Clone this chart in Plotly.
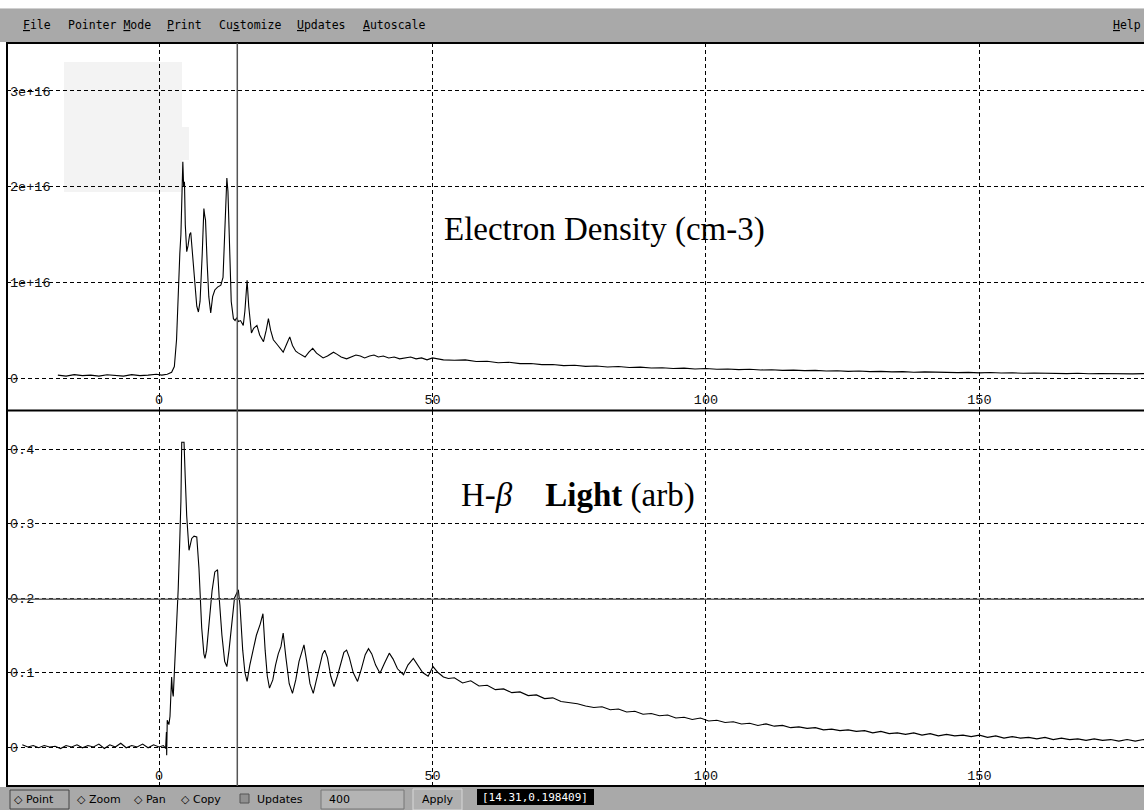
import numpy as np
import plotly.graph_objects as go

# ---------------- data ----------------
# Electron density, values in units of 1e16 cm-3
ne_t = [-18.5, -17, -15.5, -14, -12.5, -11, -9.5, -8, -6.5, -5, -3.5, -2, -0.5, 0.5, 1.5, 2.3, 2.8,
        3.2, 3.5, 3.8, 4.0, 4.2, 4.35, 4.5, 4.65, 4.8, 5.06, 5.3, 5.6, 5.8, 6.1, 6.5, 6.9, 7.2, 7.5,
        7.9, 8.2, 8.35, 8.5, 8.8, 9.1, 9.45, 9.8, 10.2, 10.7, 11.3, 11.7, 12.0, 12.4, 12.6, 12.9,
        13.2, 13.6, 13.9, 14.2, 14.5, 14.9, 15.4, 15.7, 16.1, 16.4, 16.9, 17.3, 17.9, 18.4, 19.1,
        19.6, 20.0, 20.4, 20.9, 21.6, 22.2, 22.7, 23.3, 23.9, 24.4, 25.0, 25.5, 26.1, 26.7, 27.4,
        28.1, 28.8, 29.4, 30.0, 30.8, 31.5, 31.9, 32.5, 33.3, 34.3, 35.2, 36.0, 36.8, 37.6, 38.5,
        39.3, 40.1, 41.0, 42.0, 43.0, 44.0, 45.0, 46.0, 47.0, 48.0, 49.0, 50, 52, 54, 56, 58, 60,
        62, 64, 66, 68, 70, 72, 74, 76, 78, 80, 82, 84, 86, 88, 90, 92, 94, 96, 98, 100, 102, 104,
        106, 108, 110, 112, 114, 116, 118, 120, 122, 124, 126, 128, 130, 132, 134, 136, 138, 140,
        142, 144, 146, 148, 150, 152, 154, 156, 158, 160, 162, 164, 166, 168, 170, 172, 174, 176,
        178, 180, 181]
ne_val = [0.03, 0.02, 0.035, 0.025, 0.03, 0.02, 0.035, 0.03, 0.02, 0.035, 0.025, 0.03, 0.04, 0.03,
          0.04, 0.06, 0.12, 0.4, 0.9, 1.3, 1.5, 1.9, 2.26, 2.0, 2.05, 1.6, 1.32, 1.38, 1.5, 1.52,
          1.3, 1.0, 0.75, 0.69, 0.8, 1.3, 1.77, 1.7, 1.65, 1.2, 0.85, 0.68, 0.85, 0.92, 0.95, 0.97,
          1.05, 1.5, 2.09, 1.95, 1.3, 0.8, 0.62, 0.6, 0.63, 0.59, 0.6, 0.55, 0.7, 1.02, 0.75, 0.47,
          0.52, 0.55, 0.45, 0.38, 0.5, 0.62, 0.5, 0.4, 0.35, 0.3, 0.27, 0.35, 0.43, 0.34, 0.28,
          0.26, 0.24, 0.22, 0.27, 0.31, 0.26, 0.23, 0.21, 0.23, 0.26, 0.27, 0.25, 0.22, 0.20, 0.22,
          0.24, 0.23, 0.21, 0.23, 0.24, 0.22, 0.23, 0.21, 0.22, 0.20, 0.21, 0.22, 0.20, 0.21, 0.19,
          0.21, 0.19, 0.185, 0.19, 0.172, 0.175, 0.16, 0.165, 0.15, 0.152, 0.14, 0.142, 0.13, 0.134,
          0.122, 0.126, 0.115, 0.12, 0.11, 0.114, 0.104, 0.108, 0.099, 0.103, 0.095, 0.099, 0.092,
          0.095, 0.088, 0.091, 0.084, 0.087, 0.08, 0.083, 0.077, 0.08, 0.073, 0.076, 0.07, 0.073,
          0.067, 0.07, 0.064, 0.067, 0.061, 0.064, 0.059, 0.061, 0.056, 0.059, 0.054, 0.057, 0.052,
          0.055, 0.05, 0.053, 0.048, 0.051, 0.046, 0.05, 0.045, 0.048, 0.044, 0.047, 0.043, 0.046,
          0.042]

# H-beta light, arbitrary units
hb_t = [-25, -24, -23, -22, -21, -20, -19, -18, -17, -16, -15, -14, -13, -12, -11, -10, -9, -8,
        -7, -6, -5, -4, -3, -2, -1, 0, 0.8, 1.2, 1.35, 1.4, 1.5, 1.8, 2.0, 2.3, 2.45, 2.6, 2.8,
        3.1, 3.5, 3.8, 4.0, 4.15, 4.57, 4.8, 5.06, 5.48, 5.98, 6.4, 6.9, 7.3, 7.8, 8.2, 8.4, 8.7,
        9.2, 9.7, 10.2, 10.7, 11.0, 11.5, 12.0, 12.4, 12.8, 13.3, 13.8, 14.5, 14.8, 15.3, 15.7,
        16.1, 16.6, 17.2, 17.8, 18.5, 19.0, 19.4, 19.8, 20.2, 20.8, 21.3, 21.8, 22.3, 22.7, 23.2,
        23.8, 24.4, 25.0, 25.6, 26.1, 26.5, 27.0, 27.6, 28.2, 28.8, 29.4, 29.9, 30.3, 30.8, 31.4,
        32.0, 32.6, 33.3, 33.8, 34.3, 34.8, 35.5, 36.3, 37.0, 37.7, 38.3, 38.9, 39.6, 40.4, 41.2,
        42.1, 42.8, 43.6, 44.7, 45.5, 46.5, 47.3, 48.2, 49.2, 50.1, 51.0, 52.0, 52.9, 54, 55.5,
        57, 58.5, 60, 61.5, 63, 64.5, 66, 67.5, 69, 70.5, 72, 73.5, 75, 76.5, 78, 79.5, 81, 82.5,
        84, 85.5, 87, 88.5, 90, 91.5, 93, 94.5, 96, 97.5, 99, 100.5, 102, 103.5, 105, 106.5, 108,
        109.5, 111, 112.5, 114, 115.5, 117, 118.5, 120, 121.5, 123, 124.5, 126, 127.5, 129, 130.5,
        132, 133.5, 135, 136.5, 138, 139.5, 141, 142.5, 144, 145.5, 147, 148.5, 150, 151.5, 153,
        154.5, 156, 157.5, 159, 160.5, 162, 163.5, 165, 166.5, 168, 169.5, 171, 172.5, 174, 175.5,
        177, 178.5, 180, 181]
hb_val = [0.003, 0.0, 0.002, -0.001, 0.002, 0.0, 0.001, -0.002, 0.002, 0.0, 0.003, -0.001, 0.002,
          0.0, 0.004, -0.002, 0.003, 0.0, 0.005, -0.001, 0.002, 0.0, 0.004, -0.001, 0.003, 0.0,
          0.002, -0.002, 0.02, -0.011, 0.036, 0.03, 0.041, 0.094, 0.075, 0.068, 0.1, 0.144, 0.211,
          0.28, 0.33, 0.409, 0.409, 0.36, 0.31, 0.264, 0.28, 0.283, 0.282, 0.24, 0.16, 0.125,
          0.119, 0.13, 0.17, 0.21, 0.235, 0.238, 0.2, 0.15, 0.115, 0.108, 0.13, 0.17, 0.2, 0.211,
          0.19, 0.13, 0.1, 0.088, 0.11, 0.13, 0.15, 0.165, 0.179, 0.13, 0.095, 0.079, 0.09, 0.11,
          0.125, 0.135, 0.153, 0.12, 0.085, 0.072, 0.09, 0.115, 0.128, 0.137, 0.115, 0.085, 0.072,
          0.09, 0.11, 0.125, 0.130, 0.12, 0.095, 0.081, 0.095, 0.115, 0.127, 0.130, 0.12, 0.1,
          0.088, 0.105, 0.124, 0.132, 0.125, 0.11, 0.099, 0.112, 0.126, 0.118, 0.105, 0.097, 0.11,
          0.119, 0.11, 0.1, 0.095, 0.108, 0.1, 0.094, 0.092, 0.093, 0.086, 0.089, 0.082, 0.083,
          0.077, 0.078, 0.073, 0.074, 0.069, 0.070, 0.065, 0.066, 0.061, 0.060, 0.058, 0.055,
          0.053, 0.054, 0.050, 0.051, 0.047, 0.048, 0.044, 0.045, 0.042, 0.043, 0.039, 0.040,
          0.037, 0.039, 0.035, 0.036, 0.033, 0.034, 0.031, 0.032, 0.029, 0.031, 0.028, 0.029,
          0.026, 0.027, 0.025, 0.026, 0.023, 0.024, 0.022, 0.023, 0.021, 0.022, 0.019, 0.021,
          0.018, 0.019, 0.017, 0.019, 0.016, 0.018, 0.015, 0.017, 0.015, 0.016, 0.014, 0.016,
          0.013, 0.015, 0.012, 0.014, 0.012, 0.013, 0.011, 0.013, 0.010, 0.012, 0.010, 0.011,
          0.009, 0.011, 0.009, 0.010, 0.008, 0.010, 0.008, 0.010, 0.009]

x_ticks = [0, 50, 100, 150]
x_ticktext = ["0", "50", "100", "150"]
ne_ticks = [0, 1e16, 2e16, 3e16]
ne_ticktext = ["0", "1e+16", "2e+16", "3e+16"]
hb_ticks = [0, 0.1, 0.2, 0.3, 0.4]
hb_ticktext = ["0", "0.1", "0.2", "0.3", "0.4"]

cursor_x = 14.31
cursor_y = 0.198409

menu_items = ["<u>F</u>ile", "Pointer <u>M</u>ode", "<u>P</u>rint", "Cu<u>s</u>tomize",
              "<u>U</u>pdates", "<u>A</u>utoscale"]
menu_x = [21, 66, 165, 217, 295, 361]

# ---------------- figure ----------------
W, H = 1144, 810
def px(x):
    return x / W
def py(y):
    return 1 - y / H

ne_cm3 = (np.array(ne_val) * 1e16).tolist()

fig = go.Figure()
fig.add_trace(go.Scatter(x=ne_t, y=ne_cm3, mode="lines", xaxis="x", yaxis="y",
                         line=dict(color="black", width=1.1), showlegend=False))
fig.add_trace(go.Scatter(x=hb_t, y=hb_val, mode="lines", xaxis="x2", yaxis="y2",
                         line=dict(color="black", width=1.1), showlegend=False))

tickfont = dict(family="Liberation Mono", size=13.5, color="#111")
grid = dict(showgrid=True, gridcolor="black", gridwidth=1, griddash="4px,3px",
            zeroline=False, showline=False, ticks="", ticklabelposition="inside")
xr = [-27.8, 180.1]
top_dom = [py(410), py(43)]
bot_dom = [py(786), py(411)]
xdom = [px(7), 1.0]

fig.update_layout(
    width=W, height=H, margin=dict(l=0, r=0, t=0, b=0),
    paper_bgcolor="white", plot_bgcolor="white",
    xaxis=dict(domain=xdom, range=xr, anchor="y", tickvals=x_ticks, ticktext=x_ticktext,
               tickfont=tickfont, **grid),
    yaxis=dict(domain=top_dom, range=[-0.334e16, 3.50e16], anchor="x", tickvals=ne_ticks,
               ticktext=ne_ticktext, tickfont=tickfont, **grid),
    xaxis2=dict(domain=xdom, range=xr, anchor="y2", tickvals=x_ticks, ticktext=x_ticktext,
                tickfont=tickfont, **grid),
    yaxis2=dict(domain=bot_dom, range=[-0.0523, 0.451], anchor="x2", tickvals=hb_ticks,
                ticktext=hb_ticktext, tickfont=tickfont, **grid),
)

shapes = []
# faint leftover box in top panel
shapes.append(dict(type="rect", xref="paper", yref="paper", x0=px(64), x1=px(182), y0=py(192), y1=py(62),
                   fillcolor="#f3f3f3", line=dict(width=0), layer="below"))
shapes.append(dict(type="rect", xref="paper", yref="paper", x0=px(182), x1=px(189), y0=py(160), y1=py(127),
                   fillcolor="#f3f3f3", line=dict(width=0), layer="below"))
# menu bar
shapes.append(dict(type="rect", xref="paper", yref="paper", x0=0, x1=1, y0=py(42), y1=py(8),
                   fillcolor="#a9a9a9", line=dict(width=0)))
shapes.append(dict(type="line", xref="paper", yref="paper", x0=0, x1=1, y0=py(8.5), y1=py(8.5),
                   line=dict(color="#d0d0d0", width=1)))
# bottom toolbar
shapes.append(dict(type="rect", xref="paper", yref="paper", x0=0, x1=1, y0=0, y1=py(787),
                   fillcolor="#a9a9a9", line=dict(width=0)))
# panel borders
shapes.append(dict(type="rect", xref="paper", yref="paper", x0=px(7), x1=px(1150), y0=py(786), y1=py(43),
                   line=dict(color="black", width=2), fillcolor="rgba(0,0,0,0)"))
shapes.append(dict(type="line", xref="paper", yref="paper", x0=px(7), x1=1, y0=py(410.5), y1=py(410.5),
                   line=dict(color="black", width=2)))
# cursor crosshair
shapes.append(dict(type="line", xref="x", yref="paper", x0=cursor_x, x1=cursor_x, y0=py(786), y1=py(43),
                   line=dict(color="#555", width=1.5)))
shapes.append(dict(type="line", xref="paper", yref="y2", x0=px(7), x1=1, y0=cursor_y, y1=cursor_y,
                   line=dict(color="#666", width=1.5)))
# toolbar widgets
shapes.append(dict(type="rect", xref="paper", yref="paper", x0=px(10), x1=px(69), y0=py(809), y1=py(790),
                   line=dict(color="#444", width=1), fillcolor="rgba(0,0,0,0)"))
shapes.append(dict(type="rect", xref="paper", yref="paper", x0=px(240), x1=px(249), y0=py(803), y1=py(794),
                   line=dict(color="#555", width=1), fillcolor="#909090"))
shapes.append(dict(type="rect", xref="paper", yref="paper", x0=px(321), x1=px(404), y0=py(809), y1=py(790),
                   line=dict(color="#777", width=1), fillcolor="#b4b4b4"))
shapes.append(dict(type="rect", xref="paper", yref="paper", x0=px(413), x1=px(462), y0=py(810), y1=py(789),
                   line=dict(color="#d8d8d8", width=1), fillcolor="#b0b0b0"))
shapes.append(dict(type="rect", xref="paper", yref="paper", x0=px(477), x1=px(594), y0=py(805), y1=py(789),
                   line=dict(width=0), fillcolor="black"))
fig.update_layout(shapes=shapes)

ann = []
menufont = dict(family="DejaVu Sans Mono", size=11.5, color="black")
for t, x in zip(menu_items, menu_x):
    ann.append(dict(text=t, x=px(x), y=py(25), xref="paper", yref="paper", xanchor="left",
                    yanchor="middle", showarrow=False, font=menufont))
ann.append(dict(text="<u>H</u>elp", x=px(1143), y=py(25), xref="paper", yref="paper", xanchor="right",
                yanchor="middle", showarrow=False, font=menufont))

barfont = dict(family="DejaVu Sans", size=11, color="black")
tool_items = [("\u25c7 Point", 12), ("\u25c7 Zoom", 75), ("\u25c7 Pan", 132), ("\u25c7 Copy", 179),
              ("Updates", 255), ("400", 327), ("Apply", 420)]
for t, x in tool_items:
    ann.append(dict(text=t, x=px(x), y=py(799), xref="paper", yref="paper", xanchor="left",
                    yanchor="middle", showarrow=False, font=barfont))
ann.append(dict(text="[14.31,0.198409]", x=px(535), y=py(797), xref="paper", yref="paper",
                xanchor="center", yanchor="middle", showarrow=False,
                font=dict(family="DejaVu Sans Mono", size=11, color="white")))

ann.append(dict(text="Electron Density (cm-3)", x=px(604), y=py(230), xref="paper", yref="paper",
                xanchor="center", yanchor="middle", showarrow=False,
                font=dict(family="Liberation Serif", size=33, color="black")))
ann.append(dict(text="H-<i>\u03b2</i>\u00a0\u00a0\u00a0\u00a0<b>Light</b> (arb)", x=px(578), y=py(495),
                xref="paper", yref="paper", xanchor="center", yanchor="middle", showarrow=False,
                font=dict(family="Liberation Serif", size=33, color="black")))
fig.update_layout(annotations=ann)

fig.write_html("out.html", config={"displayModeBar": False},
               post_script="document.body.style.margin='0px';document.body.style.overflow='hidden';")
